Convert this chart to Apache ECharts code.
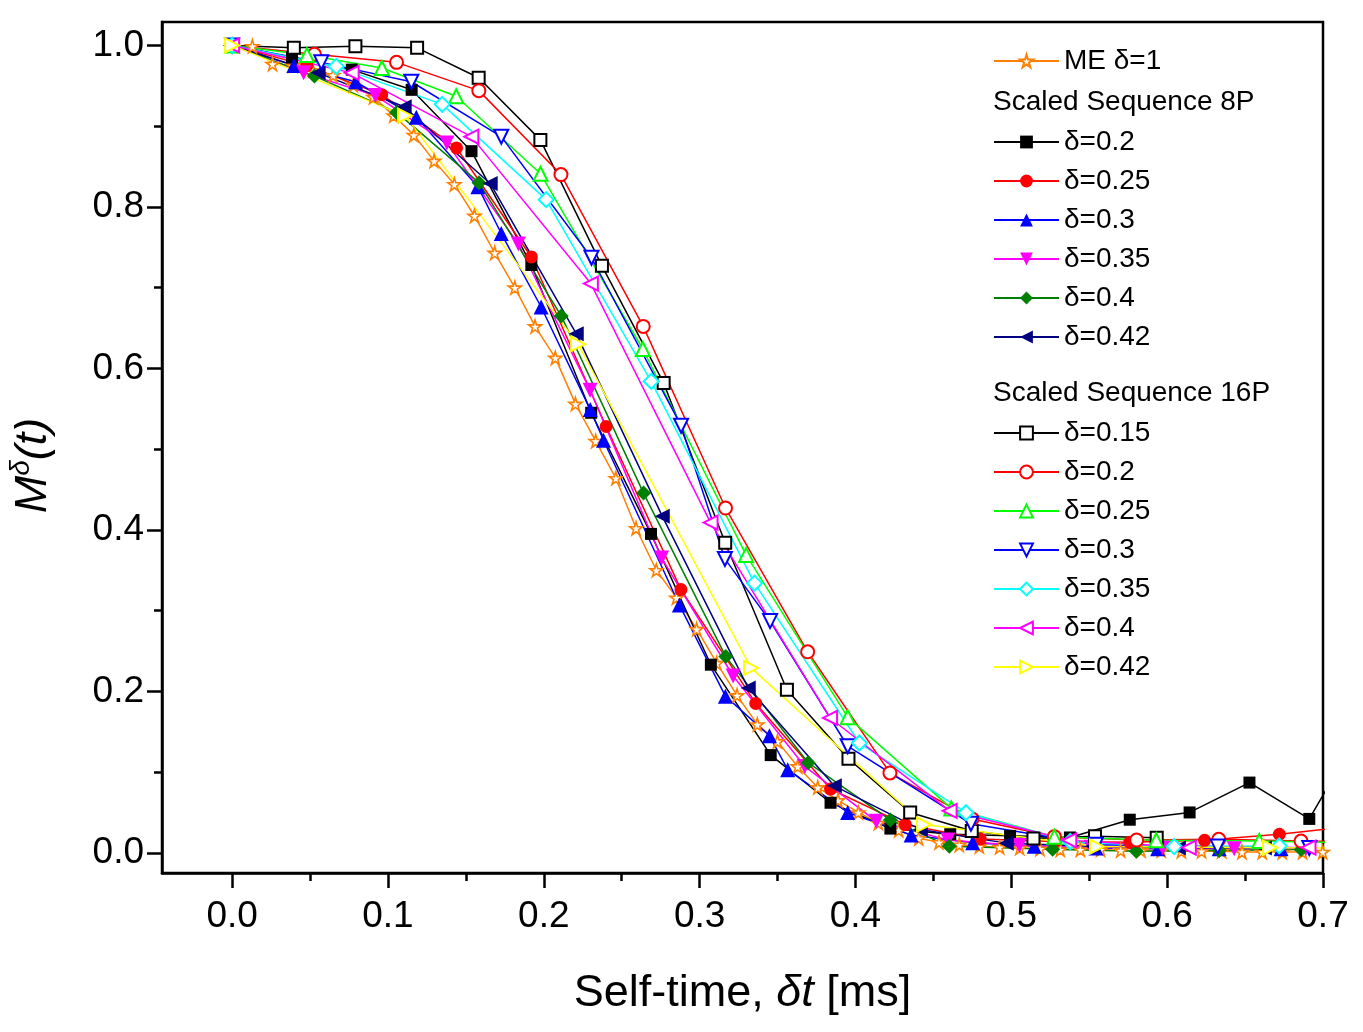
<!DOCTYPE html>
<html>
<head>
<meta charset="utf-8">
<title>M delta (t)</title>
<script src="https://cdn.jsdelivr.net/npm/echarts@6/dist/echarts.min.js"></script>
<style>
html, body { margin: 0; padding: 0; background: #fff; }
#chart { width: 1363px; height: 1032px; }
</style>
</head>
<body>
<div id="chart"></div>
<script>
var FONT = 'Arial, "Liberation Sans", sans-serif';

// axis ticks
var xTicks = [0, 0.1, 0.2, 0.3, 0.4, 0.5, 0.6, 0.7];
var xMinorTicks = [0.05, 0.15, 0.25, 0.35, 0.45, 0.55, 0.65];
var yTicks = [0, 0.2, 0.4, 0.6, 0.8, 1.0];
var yMinorTicks = [0.1, 0.3, 0.5, 0.7, 0.9];

// ME delta=1
var meX = [0, 0.0130, 0.0259, 0.0389, 0.0518, 0.0648, 0.0778, 0.0907, 0.1037, 0.1166, 0.1296, 0.1426, 0.1555, 0.1685, 0.1814, 0.1944, 0.2074, 0.2203, 0.2333, 0.2462, 0.2592, 0.2722, 0.2851, 0.2981, 0.3110, 0.3240, 0.3370, 0.3499, 0.3629, 0.3758, 0.3888, 0.4018, 0.4147, 0.4277, 0.4406, 0.4536, 0.4666, 0.4795, 0.4925, 0.5054, 0.5184, 0.5314, 0.5443, 0.5573, 0.5702, 0.5832, 0.5962, 0.6091, 0.6221, 0.6350, 0.6480, 0.6610, 0.6739, 0.6869, 0.6998];
var meY = [1.000, 0.999, 0.977, 0.975, 0.969, 0.963, 0.951, 0.936, 0.913, 0.889, 0.857, 0.828, 0.789, 0.743, 0.700, 0.652, 0.613, 0.556, 0.510, 0.464, 0.402, 0.350, 0.316, 0.277, 0.235, 0.195, 0.159, 0.138, 0.107, 0.081, 0.065, 0.050, 0.037, 0.028, 0.018, 0.013, 0.010, 0.008, 0.007, 0.006, 0.005, 0.004, 0.004, 0.004, 0.003, 0.003, 0.003, 0.002, 0.002, 0.002, 0.001, 0.001, 0.001, 0.001, 0.001];

// Scaled Sequence 8P
var p8d020X = [0, 0.0384, 0.0768, 0.1152, 0.1536, 0.1920, 0.2304, 0.2688, 0.3072, 0.3456, 0.3840, 0.4224, 0.4608, 0.4992, 0.5376, 0.5760, 0.6144, 0.6528, 0.6912, 0.7296];
var p8d020Y = [1.000, 0.985, 0.970, 0.945, 0.869, 0.728, 0.545, 0.395, 0.233, 0.121, 0.062, 0.030, 0.023, 0.021, 0.019, 0.041, 0.050, 0.087, 0.042, 0.170];
var p8d025X = [0, 0.048, 0.096, 0.144, 0.192, 0.240, 0.288, 0.336, 0.384, 0.432, 0.480, 0.528, 0.576, 0.624, 0.672, 0.720];
var p8d025Y = [1.000, 0.975, 0.939, 0.873, 0.738, 0.528, 0.326, 0.185, 0.079, 0.035, 0.017, 0.014, 0.013, 0.0155, 0.023, 0.033];
var p8d030X = [0, 0.0396, 0.0792, 0.1182, 0.1577, 0.1727, 0.1983, 0.2298, 0.2383, 0.2870, 0.3165, 0.3448, 0.3565, 0.3950, 0.4357, 0.4752, 0.5147, 0.5543, 0.5939, 0.6334, 0.6731];
var p8d030Y = [1.000, 0.975, 0.955, 0.911, 0.825, 0.767, 0.676, 0.549, 0.511, 0.307, 0.194, 0.145, 0.103, 0.050, 0.022, 0.0126, 0.008, 0.006, 0.005, 0.005, 0.005];
var p8d035X = [0, 0.0459, 0.0919, 0.1378, 0.1837, 0.2297, 0.2756, 0.3215, 0.3675, 0.4134, 0.4593, 0.5052, 0.5512, 0.5971, 0.6430, 0.6890];
var p8d035Y = [1.000, 0.966, 0.938, 0.879, 0.754, 0.573, 0.365, 0.219, 0.107, 0.039, 0.016, 0.009, 0.007, 0.006, 0.005, 0.005];
var p8d040X = [0, 0.0528, 0.1056, 0.1584, 0.2112, 0.2640, 0.3168, 0.3696, 0.4224, 0.4602, 0.5265, 0.5802, 0.6334, 0.6860];
var p8d040Y = [1.000, 0.962, 0.917, 0.830, 0.665, 0.4455, 0.243, 0.1116, 0.0406, 0.008, 0.0043, 0.002, 0.003, 0.004];
var p8d042X = [0, 0.0552, 0.1104, 0.1656, 0.2208, 0.2760, 0.3312, 0.3864, 0.4416, 0.4968, 0.5520, 0.6072, 0.6624];
var p8d042Y = [1.000, 0.966, 0.924, 0.829, 0.643, 0.417, 0.204, 0.083, 0.029, 0.012, 0.008, 0.006, 0.006];

// Scaled Sequence 16P
var p16d015X = [0, 0.0396, 0.0791, 0.1187, 0.1582, 0.1978, 0.2373, 0.2769, 0.3164, 0.3560, 0.3955, 0.4351, 0.4746, 0.5142, 0.5537, 0.5933];
var p16d015Y = [1.000, 0.997, 0.999, 0.997, 0.960, 0.883, 0.727, 0.582, 0.384, 0.202, 0.1165, 0.050, 0.027, 0.0176, 0.0206, 0.0188];
var p16d020X = [0, 0.0528, 0.1055, 0.1583, 0.2110, 0.2638, 0.3166, 0.3693, 0.4221, 0.4748, 0.5276, 0.5804, 0.6331, 0.6859, 0.7386];
var p16d020Y = [1.000, 0.989, 0.979, 0.944, 0.840, 0.652, 0.427, 0.249, 0.099, 0.042, 0.020, 0.0158, 0.0167, 0.0146, 0.014];
var p16d025X = [0, 0.0480, 0.0961, 0.1438, 0.1979, 0.2635, 0.3298, 0.3950, 0.4615, 0.5276, 0.5930, 0.6591, 0.7250];
var p16d025Y = [1.000, 0.988, 0.972, 0.937, 0.841, 0.624, 0.369, 0.168, 0.055, 0.020, 0.0155, 0.0146, 0.012];
var p16d030X = [0, 0.0572, 0.1150, 0.1727, 0.2306, 0.2881, 0.3162, 0.3452, 0.3950, 0.4741, 0.5543, 0.6324, 0.6912];
var p16d030Y = [1.000, 0.979, 0.955, 0.887, 0.737, 0.529, 0.364, 0.287, 0.132, 0.036, 0.010, 0.0077, 0.006];
var p16d035X = [0, 0.0668, 0.1348, 0.2015, 0.2689, 0.3352, 0.4025, 0.4709, 0.5378, 0.6045, 0.6719];
var p16d035Y = [1.000, 0.974, 0.927, 0.809, 0.584, 0.334, 0.136, 0.0497, 0.014, 0.0077, 0.0085];
var p16d040X = [0, 0.0767, 0.1535, 0.2302, 0.3070, 0.3837, 0.4604, 0.5372, 0.6139, 0.6907];
var p16d040Y = [1.000, 0.966, 0.887, 0.705, 0.409, 0.167, 0.052, 0.0155, 0.0065, 0.0065];
var p16d042X = [0, 0.1110, 0.2220, 0.3330, 0.4440, 0.5550, 0.6660, 0.7770];
var p16d042Y = [1.000, 0.913, 0.630, 0.229, 0.035, 0.0077, 0.0064, 0.005];

var starPath = 'path://M50,0 L61,35 L98,35 L68,57 L79,91 L50,70 L21,91 L32,57 L2,35 L39,35 Z';

function pairs(xs, ys) {
    return xs.map(function (x, i) { return [x, ys[i]]; });
}

function makeSeries(name, xs, ys, symbol, color, size, rotate) {
    var hollow = symbol.indexOf('empty') === 0;
    return {
        name: name,
        type: 'line',
        data: pairs(xs, ys),
        symbol: symbol,
        symbolSize: size,
        symbolRotate: rotate || 0,
        showAllSymbol: true,
        animation: false,
        lineStyle: { color: color, width: 1.5 },
        itemStyle: hollow ? { color: color, borderWidth: 1.8 } : { color: color },
        emphasis: { disabled: true }
    };
}

var series = [
    {
        name: 'ME δ=1',
        type: 'line',
        data: pairs(meX, meY),
        symbol: starPath,
        symbolSize: 13,
        showAllSymbol: true,
        animation: false,
        lineStyle: { color: '#ff8000', width: 1.5 },
        itemStyle: { color: '#ffffff', borderColor: '#ff8000', borderWidth: 1.6 },
        emphasis: { disabled: true }
    },
    makeSeries('8P δ=0.2', p8d020X, p8d020Y, 'rect', '#000000', 12),
    makeSeries('8P δ=0.25', p8d025X, p8d025Y, 'circle', '#ff0000', 13),
    makeSeries('8P δ=0.3', p8d030X, p8d030Y, 'triangle', '#0000ff', 15),
    makeSeries('8P δ=0.35', p8d035X, p8d035Y, 'triangle', '#ff00ff', 15, 180),
    makeSeries('8P δ=0.4', p8d040X, p8d040Y, 'diamond', '#008000', 15),
    makeSeries('8P δ=0.42', p8d042X, p8d042Y, 'triangle', '#000080', 15, 90),
    makeSeries('16P δ=0.15', p16d015X, p16d015Y, 'emptyRect', '#000000', 12),
    makeSeries('16P δ=0.2', p16d020X, p16d020Y, 'emptyCircle', '#ff0000', 13),
    makeSeries('16P δ=0.25', p16d025X, p16d025Y, 'emptyTriangle', '#00ff00', 14),
    makeSeries('16P δ=0.3', p16d030X, p16d030Y, 'emptyTriangle', '#0000ff', 14, 180),
    makeSeries('16P δ=0.35', p16d035X, p16d035Y, 'emptyDiamond', '#00ffff', 15),
    makeSeries('16P δ=0.4', p16d040X, p16d040Y, 'emptyTriangle', '#ff00ff', 14, 90),
    makeSeries('16P δ=0.42', p16d042X, p16d042Y, 'emptyTriangle', '#ffff00', 14, -90)
];

function legendBlock(names, top) {
    return {
        orient: 'vertical',
        left: 993,
        top: top,
        padding: 0,
        itemWidth: 65,
        itemHeight: 16,
        itemGap: 11,
        selectedMode: false,
        data: names,
        formatter: function (n) { return n.replace(/^\d+P /, ''); },
        textStyle: { fontSize: 28, color: '#000', fontFamily: FONT }
    };
}

var chartDom = document.getElementById('chart');
var myChart = echarts.init(chartDom, null, { renderer: 'canvas' });

var tickLine = { color: '#000', width: 2.5 };

var option = {
    backgroundColor: '#ffffff',
    animation: false,
    title: [
        { text: 'Scaled Sequence 8P', left: 993, top: 88, padding: 0,
          textStyle: { fontSize: 28, fontWeight: 'normal', color: '#000', fontFamily: FONT } },
        { text: 'Scaled Sequence 16P', left: 993, top: 379, padding: 0,
          textStyle: { fontSize: 28, fontWeight: 'normal', color: '#000', fontFamily: FONT } }
    ],
    legend: [
        legendBlock(['ME δ=1'], 47),
        legendBlock(['8P δ=0.2', '8P δ=0.25', '8P δ=0.3', '8P δ=0.35', '8P δ=0.4', '8P δ=0.42'], 128),
        legendBlock(['16P δ=0.15', '16P δ=0.2', '16P δ=0.25', '16P δ=0.3', '16P δ=0.35', '16P δ=0.4', '16P δ=0.42'], 419)
    ],
    grid: {
        left: 162,
        right: 40,
        top: 22,
        bottom: 159,
        containLabel: false,
        outerBoundsMode: 'none',
        show: true,
        borderColor: '#000',
        borderWidth: 2.5,
        backgroundColor: 'transparent'
    },
    xAxis: [
        {
            type: 'value',
            min: -0.045,
            max: 0.7,
            position: 'bottom',
            axisLine: { show: true, onZero: false, lineStyle: tickLine },
            axisTick: { show: true, inside: false, length: 15, lineStyle: tickLine, customValues: xTicks },
            axisLabel: {
                customValues: xTicks,
                margin: 25,
                formatter: function (v) { return v.toFixed(1); },
                fontSize: 37, color: '#000', fontFamily: FONT
            },
            splitLine: { show: false },
            name: '{n|Self-time, }{i|δt}{n| [ms]}',
            nameLocation: 'middle',
            nameGap: 98,
            nameTextStyle: {
                rich: {
                    n: { fontSize: 45, color: '#000', fontFamily: FONT },
                    i: { fontSize: 45, color: '#000', fontFamily: FONT, fontStyle: 'italic' }
                }
            }
        },
        {
            type: 'value',
            min: -0.045,
            max: 0.7,
            position: 'bottom',
            axisLine: { show: false, onZero: false },
            axisTick: { show: true, inside: false, length: 8, lineStyle: tickLine, customValues: xMinorTicks },
            axisLabel: { show: false },
            splitLine: { show: false }
        }
    ],
    yAxis: [
        {
            type: 'value',
            min: -0.025,
            max: 1.029,
            position: 'left',
            axisLine: { show: true, onZero: false, lineStyle: tickLine },
            axisTick: { show: true, inside: false, length: 15, lineStyle: tickLine, customValues: yTicks },
            axisLabel: {
                customValues: yTicks,
                margin: 18,
                formatter: function (v) { return v.toFixed(1); },
                fontSize: 37, color: '#000', fontFamily: FONT
            },
            splitLine: { show: false },
            name: '{i|M}{s|δ}{i|(t)}',
            nameLocation: 'middle',
            nameRotate: 90,
            nameGap: 103,
            nameTextStyle: {
                padding: [0, 36, 0, 0],
                rich: {
                    i: { fontSize: 45, color: '#000', fontFamily: FONT, fontStyle: 'italic', lineHeight: 52 },
                    s: { fontSize: 28, color: '#000', fontFamily: FONT, fontStyle: 'italic', verticalAlign: 'top', lineHeight: 30 }
                }
            }
        },
        {
            type: 'value',
            min: -0.025,
            max: 1.029,
            position: 'left',
            axisLine: { show: false, onZero: false },
            axisTick: { show: true, inside: false, length: 8, lineStyle: tickLine, customValues: yMinorTicks },
            axisLabel: { show: false },
            splitLine: { show: false }
        }
    ],
    series: series
};

option && myChart.setOption(option);
</script>
</body>
</html>
